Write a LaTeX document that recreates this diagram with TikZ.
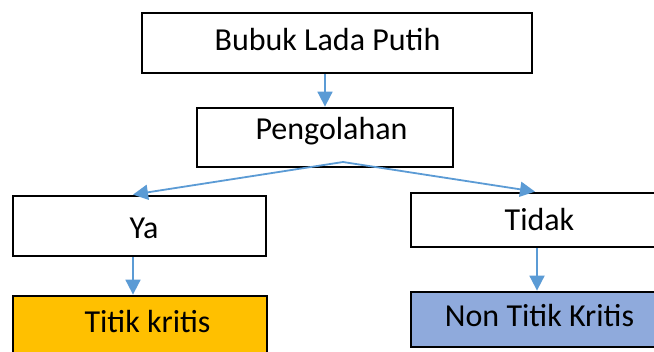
\documentclass[tikz,border=0pt]{standalone}
\usepackage{fontspec}
\setmainfont{Carlito}
\usetikzlibrary{arrows.meta,calc}
\definecolor{arrowblue}{HTML}{5B9BD5}
\definecolor{critorange}{HTML}{FFC000}
\definecolor{noncritblue}{HTML}{8FAADC}
\begin{document}
\begin{tikzpicture}[x=1bp,y=-1bp,
  box/.style={draw=black, line width=2.8bp, inner sep=0pt, text depth=0pt,
    font=\fontsize{32bp}{38bp}\selectfont},
  conn/.style={draw=arrowblue, line width=1.8bp, -{Triangle[length=15bp,width=15bp]}}]
\path[fill=white,use as bounding box] (0,0) rectangle (654,351);
\node[box, minimum width=390bp, minimum height=60bp, text height=14bp] (b1) at (337,43) {Bubuk Lada Putih\hspace{19bp}\mbox{}};
\node[box, minimum width=256bp, minimum height=59bp, text height=3bp] (b2) at (325,137.5) {\hspace{13bp}Pengolahan};
\node[box, minimum width=253bp, minimum height=60bp, text height=24bp] (ya) at (139.5,226) {\hspace{9bp}Ya};
\node[box, minimum width=257bp, minimum height=54bp, text height=20bp] (tidak) at (539.5,220) {Tidak};
\node[box, fill=critorange, minimum width=254bp, minimum height=60bp, text height=12bp] (tk) at (140,326) {\hspace{15bp}Titik kritis};
\node[box, fill=noncritblue, minimum width=257bp, minimum height=55bp, text height=13bp] (ntk) at (539.5,319.5) {Non Titik Kritis};
\coordinate (split) at (343,162);
\draw[conn] (b2.north |- b1.south) -- (b2.north);
\draw[conn] (split) -- ($(ya.north)+(-6.5,0)$);
\draw[conn] (split) -- ($(tidak.north)+(-4.5,0)$);
\draw[conn] ($(ya.south)+(-6.5,0)$) -- ($(tk.north)+(-7,0)$);
\draw[conn] ($(tidak.south)+(-2.5,0)$) -- ($(ntk.north)+(-2.5,0)$);
\end{tikzpicture}
\end{document}
